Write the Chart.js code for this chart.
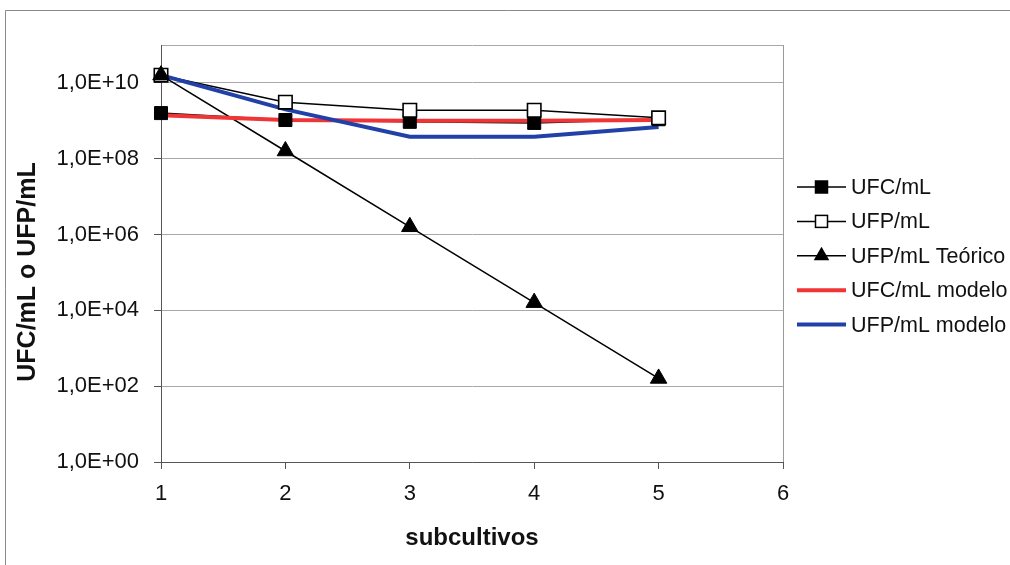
<!DOCTYPE html>
<html>
<head>
<meta charset="utf-8">
<style>
  html, body { margin: 0; padding: 0; background: #fff; }
  #wrap { position: relative; width: 1010px; height: 565px; }
</style>
<script src="https://cdn.jsdelivr.net/npm/chart.js"></script>
</head>
<body>
<div id="wrap"><canvas id="c" width="1010" height="565"></canvas></div>
<script>
// ---- data ----
const categories = [1, 2, 3, 4, 5];
const ufc        = [1.6e9, 1.05e9, 9.4e8, 8.8e8, 1.1e9];
const ufp        = [1.6e10, 3.1e9, 1.9e9, 1.9e9, 1.2e9];
const ufpTeorico = [1.6e10, 1.6e8, 1.6e6, 1.6e4, 1.6e2];
const ufcModelo  = [1.4e9, 1.05e9, 1.0e9, 1.0e9, 1.05e9];
const ufpModelo  = [1.6e10, 2.0e9, 3.8e8, 3.8e8, 6.9e8];
const yTickValues = [1, 1e2, 1e4, 1e6, 1e8, 1e10];
const xTickValues = [1, 2, 3, 4, 5, 6];
const seriesNames = ['UFC/mL', 'UFP/mL', 'UFP/mL Teórico', 'UFC/mL modelo', 'UFP/mL modelo'];
const xTitle = 'subcultivos';
const yTitle = 'UFC/mL o UFP/mL';

const FONT = '"Liberation Sans", Arial, sans-serif';
const RED = '#ef3535';
const BLUE = '#2140a8';

function pts(arr) { return categories.map((c, i) => ({ x: c, y: arr[i] })); }

function fmtExp(v) {
  const e = Math.round(Math.log10(v));
  const m = v / Math.pow(10, e);
  const s = e < 0 ? '-' : '+';
  const ee = String(Math.abs(e)).padStart(2, '0');
  return m.toFixed(1).replace('.', ',') + 'E' + s + ee;
}

const legendItems = [
  { name: seriesNames[0], color: '#000', width: 1.5, marker: 'rect', fill: '#000' },
  { name: seriesNames[1], color: '#000', width: 1.5, marker: 'rect', fill: '#fff' },
  { name: seriesNames[2], color: '#000', width: 1.5, marker: 'triangle', fill: '#000' },
  { name: seriesNames[3], color: RED, width: 4, marker: null },
  { name: seriesNames[4], color: BLUE, width: 4, marker: null }
];

const framePlugin = {
  id: 'frame',
  beforeDraw(chart) {
    const ctx = chart.ctx;
    ctx.save();
    ctx.fillStyle = '#fff';
    ctx.fillRect(0, 0, chart.width, chart.height);
    ctx.strokeStyle = '#8a8a8a';
    ctx.lineWidth = 1;
    ctx.beginPath();
    ctx.moveTo(5.5, chart.height + 5);
    ctx.lineTo(5.5, 10.5);
    ctx.lineTo(chart.width + 5, 10.5);
    ctx.stroke();
    ctx.restore();
  },
  afterDraw(chart) {
    const ctx = chart.ctx;
    ctx.save();
    ctx.translate(28, 272);
    ctx.rotate(-Math.PI / 2);
    ctx.fillStyle = '#111';
    ctx.font = 'bold 25px ' + FONT;
    ctx.textAlign = 'center';
    ctx.textBaseline = 'middle';
    ctx.fillText(yTitle, 0, 0);
    ctx.restore();

    const x0 = 797, x1 = 846, tx = 851;
    const y0 = 187, dy = 34.4;
    legendItems.forEach((it, i) => {
      const y = y0 + i * dy;
      ctx.save();
      ctx.strokeStyle = it.color;
      ctx.lineWidth = it.width;
      ctx.beginPath();
      ctx.moveTo(x0, y);
      ctx.lineTo(x1, y);
      ctx.stroke();
      const cx = (x0 + x1) / 2;
      if (it.marker === 'rect') {
        const s = 12;
        ctx.fillStyle = it.fill;
        ctx.strokeStyle = '#000';
        ctx.lineWidth = 1.5;
        ctx.fillRect(cx - s / 2, y - s / 2, s, s);
        ctx.strokeRect(cx - s / 2, y - s / 2, s, s);
      } else if (it.marker === 'triangle') {
        const r = 9;
        ctx.fillStyle = '#000';
        ctx.beginPath();
        ctx.moveTo(cx, y - r);
        ctx.lineTo(cx + r * 0.866, y + r * 0.5);
        ctx.lineTo(cx - r * 0.866, y + r * 0.5);
        ctx.closePath();
        ctx.fill();
      }
      ctx.fillStyle = '#111';
      ctx.font = '21.5px ' + FONT;
      ctx.textAlign = 'left';
      ctx.textBaseline = 'middle';
      ctx.fillText(it.name, tx, y + 1);
      ctx.restore();
    });
  }
};

function lineDs(label, arr, color, width, order) {
  return { label, data: pts(arr), borderColor: color, borderWidth: width,
           pointRadius: 0, clip: false, order };
}
function markerDs(label, arr, style, radius, fill, bw, order) {
  return { label, data: pts(arr), showLine: false, borderColor: '#000',
           pointStyle: style, pointRadius: radius, pointBackgroundColor: fill,
           pointBorderColor: '#000', pointBorderWidth: bw, clip: false, order };
}

new Chart(document.getElementById('c'), {
  type: 'line',
  data: {
    datasets: [
      lineDs(seriesNames[0], ufc, '#000', 1.5, 9),
      lineDs(seriesNames[1], ufp, '#000', 1.5, 8),
      lineDs(seriesNames[2], ufpTeorico, '#000', 1.5, 7),
      lineDs(seriesNames[3], ufcModelo, RED, 4, 6),
      lineDs(seriesNames[4], ufpModelo, BLUE, 4, 5),
      markerDs(seriesNames[0], ufc, 'rect', 9.2, '#000', 1, 3),
      markerDs(seriesNames[1], ufp, 'rect', 9.5, '#fff', 1.6, 2),
      markerDs(seriesNames[2], ufpTeorico, 'triangle', 9.5, '#000', 1, 1)
    ]
  },
  options: {
    responsive: false,
    animation: false,
    devicePixelRatio: 1,
    layout: { padding: { left: 0, top: 45, right: 227, bottom: 0 } },
    plugins: {
      legend: { display: false },
      tooltip: { enabled: false }
    },
    elements: { line: { tension: 0 } },
    scales: {
      x: {
        type: 'linear',
        min: 1, max: 6,
        afterBuildTicks(scale) { scale.ticks = xTickValues.map(v => ({ value: v })); },
        afterFit(scale) { scale.height = 103; },
        ticks: {
          color: '#111',
          font: { family: FONT, size: 22 },
          padding: 12,
          maxRotation: 0,
          callback: v => String(v)
        },
        grid: {
          drawOnChartArea: true,
          color: ctx => (ctx.tick && ctx.tick.value === 6) ? '#9a9a9a' : 'rgba(0,0,0,0)',
          tickColor: '#555',
          tickLength: 7,
          lineWidth: 1
        },
        border: { display: true, color: '#555', width: 1 },
        title: {
          display: true,
          text: xTitle,
          color: '#111',
          font: { family: FONT, size: 24, weight: 'bold' },
          padding: { top: 0, bottom: 12 }
        }
      },
      y: {
        type: 'logarithmic',
        min: 1, max: 1e11,
        afterBuildTicks(scale) {
          scale.ticks = yTickValues.concat([1e11]).map(v => ({ value: v }));
        },
        afterFit(scale) { scale.width = 161; },
        ticks: {
          color: '#111',
          font: { family: FONT, size: 22 },
          padding: 15,
          callback: v => (v >= 1e11 ? '' : fmtExp(v))
        },
        grid: {
          color: '#a8a8a8',
          tickColor: ctx => (ctx.tick && ctx.tick.value >= 1e11) ? 'rgba(0,0,0,0)' : '#555',
          tickLength: 7,
          lineWidth: 1
        },
        border: { display: true, color: '#555', width: 1 }
      }
    }
  },
  plugins: [framePlugin]
});
</script>
</body>
</html>
